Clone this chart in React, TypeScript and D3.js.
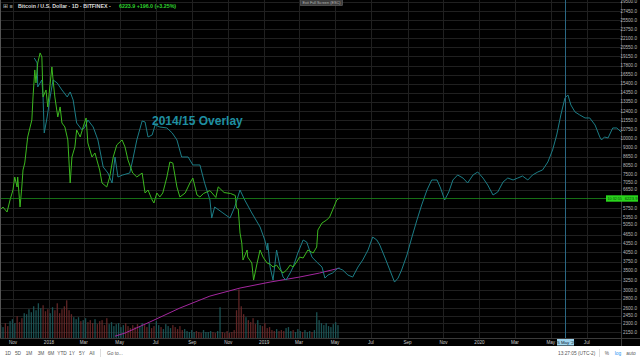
import React, { useEffect, useRef } from "react";
import * as d3 from "d3";

// BTC/USD daily (Bitfinex)
const btcDates = [
  "2017-10-10", "2017-10-15", "2017-10-22", "2017-10-27", "2017-11-01", "2017-11-04", "2017-11-08", "2017-11-09",
  "2017-11-13", "2017-11-16", "2017-11-18", "2017-11-21", "2017-11-26", "2017-12-03", "2017-12-05", "2017-12-08",
  "2017-12-10", "2017-12-13", "2017-12-17", "2017-12-20", "2017-12-22", "2017-12-27", "2017-12-30", "2018-01-06",
  "2018-01-08", "2018-01-11", "2018-01-16", "2018-01-20", "2018-01-23", "2018-01-28", "2018-02-02", "2018-02-06",
  "2018-02-09", "2018-02-14", "2018-02-17", "2018-02-23", "2018-02-28", "2018-03-05", "2018-03-08", "2018-03-15",
  "2018-03-20", "2018-03-28", "2018-04-01", "2018-04-09", "2018-04-14", "2018-04-20", "2018-04-26", "2018-05-05",
  "2018-05-10", "2018-05-15", "2018-05-23", "2018-05-30", "2018-06-08", "2018-06-13", "2018-06-18", "2018-06-25",
  "2018-06-28", "2018-07-03", "2018-07-08", "2018-07-13", "2018-07-20", "2018-07-25", "2018-07-30", "2018-08-06",
  "2018-08-11", "2018-08-20", "2018-08-28", "2018-09-02", "2018-09-09", "2018-09-14", "2018-09-20", "2018-10-01",
  "2018-10-11", "2018-10-15", "2018-10-25", "2018-11-05", "2018-11-13", "2018-11-15", "2018-11-18", "2018-11-21",
  "2018-11-24", "2018-11-26", "2018-12-03", "2018-12-04", "2018-12-11", "2018-12-14", "2018-12-20", "2018-12-25",
  "2018-12-30", "2019-01-06", "2019-01-11", "2019-01-16", "2019-01-22", "2019-01-28", "2019-02-02", "2019-02-08",
  "2019-02-14", "2019-02-19", "2019-02-25", "2019-03-02", "2019-03-08", "2019-03-16", "2019-03-25", "2019-03-31",
  "2019-04-02", "2019-04-09", "2019-04-17", "2019-04-22", "2019-04-27", "2019-05-04", "2019-05-09",
];
const btcPrices = [
  5658, 5795, 5569, 6126, 6632, 7353, 6792, 7353,
  5795, 6792, 7775, 8217, 10100, 11560, 13873, 17190,
  15504, 18170, 19674, 19057, 13873, 14665, 12815, 17607,
  15878, 13873, 11838, 12815, 11285, 10934, 9865, 7010,
  8616, 9330, 10680, 10100, 10934, 11745, 9630, 8616,
  8895, 7775, 7010, 6792, 7353, 8616, 9480, 9865,
  9330, 8415, 7589, 7353, 7589, 6476, 6632, 6126,
  5982, 6476, 6274, 6476, 7353, 8283, 8217, 6792,
  6274, 6476, 7010, 7294, 6374, 6274, 6450, 6600,
  6250, 6800, 6500, 6450, 6350, 5750, 5700, 4714,
  4355, 3805, 4120, 3896, 3716, 3246, 3716, 4120,
  3896, 3716, 3680, 3600, 3657, 3516, 3433, 3516,
  3657, 3600, 3746, 3896, 3867, 4120, 4023, 4219,
  4828, 5104, 5228, 5353, 5658, 6126, 6223.9,
];

// 2014/15 overlay, shifted onto the current cycle
const overlayDates = [
  "2017-12-07", "2017-12-12", "2017-12-13", "2017-12-20", "2017-12-22", "2017-12-24", "2017-12-29", "2018-01-03",
  "2018-01-08", "2018-01-15", "2018-01-23", "2018-02-01", "2018-02-06", "2018-02-11", "2018-02-17", "2018-02-26",
  "2018-03-03", "2018-03-08", "2018-03-17", "2018-03-25", "2018-04-03", "2018-04-11", "2018-04-18", "2018-04-23",
  "2018-04-28", "2018-05-06", "2018-05-18", "2018-05-23", "2018-05-30", "2018-06-08", "2018-06-13", "2018-06-18",
  "2018-06-25", "2018-06-30", "2018-07-08", "2018-07-20", "2018-07-29", "2018-08-06", "2018-08-14", "2018-08-25",
  "2018-09-02", "2018-09-14", "2018-09-22", "2018-10-01", "2018-10-04", "2018-10-09", "2018-10-23", "2018-11-04",
  "2018-11-12", "2018-11-21", "2018-11-29", "2018-12-11", "2018-12-25", "2019-01-02", "2019-01-06", "2019-01-07",
  "2019-01-11", "2019-01-16", "2019-01-22", "2019-01-28", "2019-02-02", "2019-02-07", "2019-02-14", "2019-02-19",
  "2019-02-27", "2019-03-08", "2019-03-14", "2019-03-23", "2019-03-31", "2019-04-09", "2019-04-14", "2019-04-19",
  "2019-04-27", "2019-05-06", "2019-05-14", "2019-05-23", "2019-05-31", "2019-06-09", "2019-06-17", "2019-06-26",
  "2019-07-04", "2019-07-11", "2019-07-16", "2019-07-25", "2019-08-02", "2019-08-10", "2019-08-16", "2019-08-22",
  "2019-08-31", "2019-09-08", "2019-09-17", "2019-09-25", "2019-10-04", "2019-10-12", "2019-10-21", "2019-10-27",
  "2019-11-03", "2019-11-10", "2019-11-17", "2019-11-25", "2019-12-04", "2019-12-12", "2019-12-21", "2019-12-29",
  "2020-01-07", "2020-01-15", "2020-01-24", "2020-02-01", "2020-02-10", "2020-02-18", "2020-02-27", "2020-03-06",
  "2020-03-14", "2020-03-23", "2020-03-31", "2020-04-09", "2020-04-17", "2020-04-26", "2020-05-04", "2020-05-11",
  "2020-05-18", "2020-05-25", "2020-05-30", "2020-06-04", "2020-06-11", "2020-06-19", "2020-06-28", "2020-07-06",
  "2020-07-15", "2020-07-23", "2020-07-26", "2020-07-31", "2020-08-06", "2020-08-14", "2020-08-21", "2020-08-28",
];
const overlayPrices = [
  18905, 18170, 15020, 15878, 13873, 10427, 11838, 13873,
  15878, 15504, 14665, 13873, 14435, 13550, 11285, 10680,
  10934, 11560, 10934, 9865, 7960, 7589, 7010, 8616,
  7353, 7470, 7589, 8415, 9865, 11466, 11375, 10100,
  10262, 11107, 10934, 10848, 10427, 9865, 8616, 8616,
  8088, 8088, 7000, 6126, 5309, 5795, 5527, 5309,
  5795, 6632, 6126, 5527, 4945, 4460, 4120, 4355,
  3600, 3246, 4120, 3600, 3325, 3246, 3433, 3600,
  4023, 4460, 4390, 3896, 3746, 3600, 3298, 3378,
  3433, 3571, 3516, 3378, 3325, 3600, 3805, 4120,
  4567, 4460, 4286, 3867, 3516, 3195, 3298, 3516,
  3960, 4530, 5228, 5888, 6632, 7181, 7181, 6738,
  6126, 6527, 7181, 7470, 7294, 7010, 7470, 7652,
  7294, 6900, 6374, 6527, 7065, 7294, 7181, 7294,
  7411, 7181, 7470, 7652, 7775, 8283, 9111, 10262,
  12030, 13767, 14097, 13020, 12317, 12030, 11745, 11745,
  11107, 10100, 9865, 10100, 10020, 10848, 10848, 10510,
];

// long moving average (purple)
const maDates = ["2018-04-23", "2018-05-10", "2018-06-21", "2018-08-11", "2018-10-01", "2018-11-21", "2019-01-11", "2019-03-02", "2019-04-05", "2019-05-09"];
const maValues = [2080, 2132, 2327, 2600, 2859, 3047, 3195, 3325, 3433, 3571];

// volume, one value every 4 days starting 2017-10-10 (thousand BTC)
const volumeStart = "2017-10-10";
const volumeStepDays = 4;
const volumes = [
  26, 22, 30, 24, 34,
  38, 30, 44, 32, 40, 50,
  48, 58, 52, 64, 56, 70, 60, 66, 54,
  58, 50, 62, 56, 70, 50, 58, 64, 76, 56,
  48, 42, 38, 42, 34, 36, 40, 32, 36, 30, 38, 28, 34,
  36, 26, 40, 28, 32, 24, 28, 30, 22, 26, 30, 24, 20, 26, 22, 28, 24,
  30, 26, 22, 30, 20, 24, 34, 26, 22, 18, 28, 24, 20, 26, 22, 18, 24, 16,
  18, 14, 12, 16, 12, 14, 12, 10, 16, 12, 12, 14, 12, 10, 14, 62, 12, 10, 14, 10, 12, 16,
  56, 98, 64, 48, 42, 36,
  32, 40, 28, 36, 26, 24, 30, 20, 22,
  16, 14, 18, 14, 16, 14, 20, 22, 14, 16, 12, 18, 14, 12, 16, 12, 14, 12, 16,
  52, 36, 30, 26, 30, 24, 22, 28, 32, 26,
];

const priceTicks = [
  2150, 2300, 2450, 2600, 2800, 3000, 3250, 3500, 3750, 4050, 4350, 4650, 5050, 5350, 5750,
  6650, 7050, 7500, 8050, 8650, 9300, 10000, 10750, 11550, 12400, 13350, 14350, 15400,
  16550, 17800, 19150, 20550, 22100, 23750, 25500, 27450, 29500,
];
const timeTicks = [
  "2017-11-01", "2018-01-01", "2018-03-01", "2018-05-01", "2018-07-01", "2018-09-01", "2018-11-01",
  "2019-01-01", "2019-03-01", "2019-05-01", "2019-07-01", "2019-09-01", "2019-11-01",
  "2020-01-01", "2020-03-01", "2020-05-01", "2020-07-01",
];
const rangeButtons = ["1D", "5D", "1M", "3M", "6M", "YTD", "1Y", "5Y", "All"];
const lastPrice = 6223.9;
const cursorDate = "2020-05-25";

const W = 640;
const H = 360;

const App = () => {
  const svgRef = useRef(null);

  useEffect(() => {
    document.body.style.margin = "0";
    const plotR = 621;
    const plotB = 338;
    const font = "Liberation Sans, Arial, sans-serif";
    const parse = d3.timeParse("%Y-%m-%d");

    const svg = d3.select(svgRef.current);
    svg.selectAll("*").remove();

    const x = d3.scaleTime().domain([parse("2017-10-10"), parse("2020-08-28")]).range([0, plotR]);
    const y = d3.scaleLog().domain([2050, 29940]).range([plotB, 0]);
    const vol = d3.scaleLinear().domain([0, 125]).range([0, 62]);

    svg.append("rect").attr("width", W).attr("height", H).attr("fill", "#000");

    svg.append("defs").append("clipPath").attr("id", "plot")
      .append("rect").attr("width", plotR).attr("height", plotB);

    // grid
    const grid = svg.append("g");
    grid.selectAll(".hg").data(priceTicks).enter().append("line")
      .attr("x1", 0).attr("x2", plotR)
      .attr("y1", (d) => Math.round(y(d)) + 0.5).attr("y2", (d) => Math.round(y(d)) + 0.5)
      .attr("stroke", "#202020");
    grid.selectAll(".vg").data(timeTicks).enter().append("line")
      .attr("x1", (d) => Math.round(x(parse(d))) + 0.5).attr("x2", (d) => Math.round(x(parse(d))) + 0.5)
      .attr("y1", 0).attr("y2", plotB)
      .attr("stroke", "#202020");

    const plot = svg.append("g").attr("clip-path", "url(#plot)");

    // volume bars, coloured by direction of price
    const btc = btcDates.map((d, i) => ({ date: parse(d), value: btcPrices[i] }));
    const bis = d3.bisector((d) => d.date).left;
    const priceAt = (t) => {
      const i = Math.max(1, Math.min(btc.length - 1, bis(btc, t)));
      const a = btc[i - 1], b = btc[i];
      const k = (t - a.date) / (b.date - a.date);
      return a.value + (b.value - a.value) * Math.max(0, Math.min(1, k));
    };
    const v0 = parse(volumeStart);
    const volData = volumes.map((v, i) => {
      const date = d3.timeDay.offset(v0, i * volumeStepDays);
      const prev = d3.timeDay.offset(date, -volumeStepDays);
      return { date, v, up: priceAt(date) >= priceAt(prev) };
    });
    const barW = x(d3.timeDay.offset(v0, volumeStepDays)) - x(v0);
    plot.selectAll(".vol").data(volData).enter().append("rect")
      .attr("x", (d) => x(d.date))
      .attr("y", (d) => plotB - vol(d.v))
      .attr("width", barW * 0.55)
      .attr("height", (d) => vol(d.v))
      .attr("fill", (d) => (d.up ? "#1f5f60" : "#6e2a2a"))
      .attr("opacity", 0.85);

    const line = d3.line().x((d) => x(d.date)).y((d) => y(d.value));

    // moving average
    plot.append("path")
      .datum(maDates.map((d, i) => ({ date: parse(d), value: maValues[i] })))
      .attr("d", line).attr("fill", "none").attr("stroke", "#a4279f").attr("stroke-width", 1);

    // overlay
    plot.append("path")
      .datum(overlayDates.map((d, i) => ({ date: parse(d), value: overlayPrices[i] })))
      .attr("d", line).attr("fill", "none").attr("stroke", "#1c7d86").attr("stroke-width", 1);

    // price
    plot.append("path")
      .datum(btc)
      .attr("d", line).attr("fill", "none").attr("stroke", "#3cb81f").attr("stroke-width", 1);

    // last price line
    const yl = Math.round(y(lastPrice)) + 0.5;
    svg.append("line").attr("x1", 0).attr("x2", plotR).attr("y1", yl).attr("y2", yl)
      .attr("stroke", "#1a8a1a").attr("stroke-width", 0.8);

    // cursor line
    const xc = Math.round(x(parse(cursorDate))) + 0.5;
    svg.append("line").attr("x1", xc).attr("x2", xc).attr("y1", 0).attr("y2", plotB)
      .attr("stroke", "#2a6884").attr("stroke-width", 1);

    svg.append("text").attr("x", 152).attr("y", 125)
      .attr("font-family", font).attr("font-weight", "bold").attr("font-size", 12)
      .attr("fill", "#1f8fa1").text("2014/15 Overlay");

    // borders
    svg.append("line").attr("x1", 0.5).attr("x2", 0.5).attr("y1", 0).attr("y2", plotB).attr("stroke", "#555");
    svg.append("line").attr("x1", plotR + 0.5).attr("x2", plotR + 0.5).attr("y1", 0).attr("y2", 346).attr("stroke", "#3a3a3a");
    svg.append("line").attr("x1", 0).attr("x2", W).attr("y1", plotB + 0.5).attr("y2", plotB + 0.5).attr("stroke", "#3a3a3a");

    // price axis
    svg.append("g").selectAll("text").data(priceTicks).enter().append("text")
      .attr("x", 637).attr("y", (d) => y(d) + 1.6)
      .attr("text-anchor", "end").attr("font-family", font).attr("font-size", 4.6)
      .attr("fill", "#b8b8b8").text((d) => d3.format(".1f")(d));

    svg.append("rect").attr("x", 606).attr("y", yl - 3.2).attr("width", 32).attr("height", 6.4)
      .attr("fill", "#29d41c");
    svg.append("text").attr("x", 607.5).attr("y", yl + 1.4).attr("font-family", font).attr("font-size", 3.7)
      .attr("fill", "#0b3d0b").text("10:32:55");
    svg.append("text").attr("x", 637.5).attr("y", yl + 1.5).attr("text-anchor", "end").attr("font-family", font)
      .attr("font-size", 4.2).attr("fill", "#0b3d0b").text(d3.format(".1f")(lastPrice));

    // time axis
    const fmtTick = (d) => (d.getMonth() === 0 ? d3.timeFormat("%Y")(d) : d3.timeFormat("%b")(d));
    svg.append("g").selectAll("text").data(timeTicks).enter().append("text")
      .attr("x", (d) => x(parse(d))).attr("y", 343.8)
      .attr("text-anchor", "middle").attr("font-family", font).attr("font-size", 4.6)
      .attr("fill", "#c8c8c8").text((d) => fmtTick(parse(d)));
    svg.append("rect").attr("x", xc - 8.5).attr("y", 339).attr("width", 17).attr("height", 6.5).attr("fill", "#9ed3ec");
    svg.append("text").attr("x", xc).attr("y", 343.8).attr("text-anchor", "middle").attr("font-family", font)
      .attr("font-size", 4.4).attr("fill", "#123").text(d3.timeFormat("%d %b '%y")(parse(cursorDate)));

    // header
    svg.append("text").attr("x", 3).attr("y", 7.8).attr("font-family", font).attr("font-size", 5.5)
      .attr("fill", "#bbb").text("⊞  ≡");
    svg.append("text").attr("x", 18).attr("y", 7.8).attr("font-family", font).attr("font-size", 5.3)
      .attr("font-weight", "bold").attr("fill", "#dcdcdc").text("Bitcoin / U.S. Dollar · 1D · BITFINEX -");
    svg.append("text").attr("x", 119).attr("y", 7.8).attr("font-family", font).attr("font-size", 5.3)
      .attr("font-weight", "bold").attr("fill", "#2fd12f").text("6223.9  +196.0 (+3.25%)");

    svg.append("rect").attr("x", 300.5).attr("y", -1).attr("width", 42).attr("height", 6.5)
      .attr("fill", "#3c3c3c").attr("stroke", "#6a6a6a").attr("stroke-width", 0.6);
    svg.append("text").attr("x", 321.5).attr("y", 3.8).attr("text-anchor", "middle").attr("font-family", font)
      .attr("font-size", 3.8).attr("fill", "#b5b5b5").text("Exit Full Screen (ESC)");

    // bottom toolbar
    svg.append("rect").attr("x", 0).attr("y", 346).attr("width", W).attr("height", 14).attr("fill", "#fff");
    const bx = [8, 18, 29, 41, 51, 62, 72, 82, 92];
    svg.append("g").selectAll("text").data(rangeButtons).enter().append("text")
      .attr("x", (d, i) => bx[i]).attr("y", 355).attr("text-anchor", "middle")
      .attr("font-family", font).attr("font-size", 4.8).attr("fill", "#555").text((d) => d);
    svg.append("line").attr("x1", 100.5).attr("x2", 100.5).attr("y1", 349).attr("y2", 357).attr("stroke", "#ddd");
    svg.append("text").attr("x", 107).attr("y", 355).attr("font-family", font).attr("font-size", 4.8)
      .attr("fill", "#555").text("Go to...");
    svg.append("text").attr("x", 558).attr("y", 355).attr("font-family", font).attr("font-size", 4.8)
      .attr("fill", "#555").text("13:27:05 (UTC-2)");
    svg.append("line").attr("x1", 599.5).attr("x2", 599.5).attr("y1", 349).attr("y2", 357).attr("stroke", "#ddd");
    svg.append("text").attr("x", 607).attr("y", 355).attr("text-anchor", "middle").attr("font-family", font)
      .attr("font-size", 4.8).attr("fill", "#555").text("%");
    svg.append("text").attr("x", 618).attr("y", 355).attr("text-anchor", "middle").attr("font-family", font)
      .attr("font-size", 4.8).attr("fill", "#2196f3").text("log");
    svg.append("text").attr("x", 631).attr("y", 355).attr("text-anchor", "middle").attr("font-family", font)
      .attr("font-size", 4.8).attr("fill", "#555").text("auto");
  }, []);

  return <svg ref={svgRef} width={W} height={H} style={{ display: "block" }}></svg>;
};

export default App;
